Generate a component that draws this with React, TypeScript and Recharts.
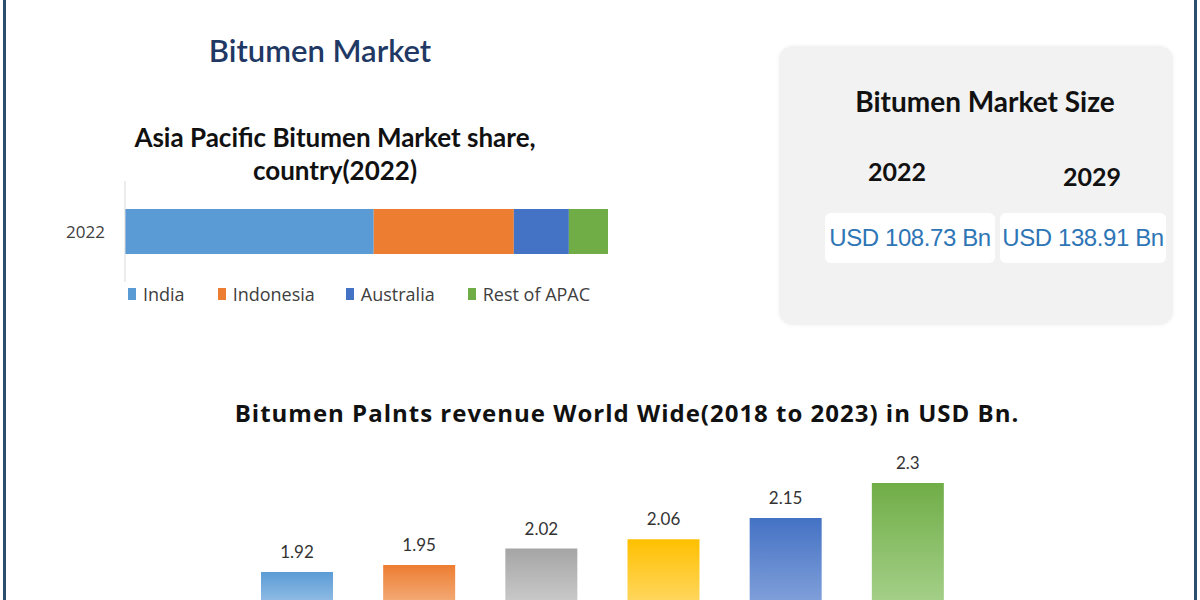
import React from "react";
import { BarChart, Bar, XAxis, YAxis, Legend, LabelList, Cell } from "recharts";

// Asia Pacific share by country, 2022 (%)
const shareYear = ["2022"];
const countries = ["India", "Indonesia", "Australia", "Rest of APAC"];
const shareValues = [51.5, 29, 11.4, 8.1];
const countryColors = ["#5b9bd5", "#ed7d31", "#4472c4", "#70ad47"];

// world wide revenue, USD Bn
const revenueYears = ["2018", "2019", "2020", "2021", "2022", "2023"];
const revenueValues = [1.92, 1.95, 2.02, 2.06, 2.15, 2.3];
const barTop = ["#5b9bd5", "#ed7d31", "#a5a5a5", "#ffc000", "#4472c4", "#70ad47"];
const barBottom = ["#8dbae3", "#f3a873", "#c8c8c8", "#ffd65c", "#7f9ed9", "#a3cf87"];

// market size summary
const sizeYears = ["2022", "2029"];
const sizeLabels = ["USD 108.73 Bn", "USD 138.91 Bn"];

const shareData = shareYear.map((y) => {
  const row: Record<string, string | number> = { year: y };
  countries.forEach((c, i) => (row[c] = shareValues[i]));
  return row;
});

const revenueData = revenueYears.map((y, i) => ({ year: y, value: revenueValues[i] }));

const sans = "Lato, 'Noto Sans', sans-serif";

// legend kept in the series order (recharts sorts it by name otherwise)
function ShareLegend() {
  return (
    <div style={{ display: "flex", paddingLeft: 3, height: 24, alignItems: "center", fontFamily: "'Open Sans', sans-serif", fontSize: 18, color: "#404040" }}>
      {countries.map((c, i) => (
        <span key={c} style={{ display: "flex", alignItems: "center", marginRight: [33, 31, 33, 0][i] }}>
          <span style={{ width: 8, height: 12, background: countryColors[i], marginRight: 7, display: "inline-block" }} />
          {c}
        </span>
      ))}
    </div>
  );
}

export default function App() {
  return (
    <div style={{ position: "absolute", left: 0, top: 0, width: 1200, height: 600, background: "#fff", overflow: "hidden" }}>
      <div style={{ position: "absolute", left: 3, top: 0, width: 1188, height: 600, borderLeft: "3px solid #2d4d6c", borderRight: "3px solid #2d4d6c" }} />

      <div style={{ position: "absolute", left: 120, width: 400, top: 31, textAlign: "center", fontFamily: sans, fontSize: 31, fontWeight: 600, color: "#1f3864" }}>
        Bitumen Market
      </div>
      <div style={{ position: "absolute", left: 85, width: 500, top: 121, textAlign: "center", fontFamily: sans, fontSize: 26, fontWeight: 700, color: "#111", lineHeight: "33px" }}>
        Asia Pacific Bitumen Market share,
        <br />
        country(2022)
      </div>

      <div style={{ position: "absolute", left: 0, top: 0 }}>
        <BarChart width={640} height={306} data={shareData} layout="vertical" margin={{ top: 181, right: 32, left: 0, bottom: 0 }}>
          <XAxis type="number" domain={[0, 100]} hide />
          <YAxis
            type="category"
            dataKey="year"
            width={125}
            tickLine={false}
            axisLine={{ stroke: "#d9d9d9" }}
            tickMargin={14}
            tick={{ fill: "#404040", fontSize: 17, fontFamily: "'Open Sans', sans-serif" }}
          />
          <Legend verticalAlign="bottom" align="left" content={<ShareLegend />} wrapperStyle={{ left: 125 }} />
          {countries.map((c, i) => (
            <Bar key={c} dataKey={c} stackId="a" fill={countryColors[i]} barSize={45} isAnimationActive={false} />
          ))}
        </BarChart>
      </div>

      <div style={{ position: "absolute", left: 779, top: 46, width: 394, height: 279, background: "#f2f2f2", borderRadius: 14, boxShadow: "0 0 4px rgba(0,0,0,0.06)" }}>
        <div style={{ position: "absolute", left: 0, width: 412, top: 38, textAlign: "center", fontFamily: sans, fontSize: 28, fontWeight: 700, color: "#111" }}>
          Bitumen Market Size
        </div>
        {sizeYears.map((y, i) => (
          <div key={y} style={{ position: "absolute", left: [89, 284][i], top: [110, 115][i], width: 54, textAlign: "center", fontFamily: sans, fontSize: 25, fontWeight: 700, color: "#111" }}>
            {y}
          </div>
        ))}
        {sizeLabels.map((s, i) => (
          <div key={s} style={{ position: "absolute", left: [46, 221][i], top: 167, width: [170, 166][i], height: 50, background: "#fff", borderRadius: 6, display: "flex", alignItems: "center", justifyContent: "center", fontFamily: "'Liberation Sans', Arial, sans-serif", fontSize: 24, letterSpacing: -0.4, color: "#2e75b6", whiteSpace: "nowrap" }}>
            {s}
          </div>
        ))}
      </div>

      <div style={{ position: "absolute", left: 0, width: 1254, top: 396, textAlign: "center", fontFamily: "'Open Sans', sans-serif", fontSize: 24, fontWeight: 700, color: "#111", letterSpacing: 1, whiteSpace: "nowrap" }}>
        Bitumen Palnts revenue World Wide(2018 to 2023) in USD Bn.
      </div>

      <div style={{ position: "absolute", left: 0, top: 430 }}>
        <BarChart width={1200} height={170} data={revenueData} margin={{ top: 6.2, right: 231, left: 236, bottom: 0 }} barCategoryGap={0}>
          <defs>
            {barTop.map((c, i) => (
              <linearGradient key={i} id={`rev${i}`} x1="0" y1="0" x2="0" y2="1">
                <stop offset="0%" stopColor={c} />
                <stop offset="100%" stopColor={barBottom[i]} />
              </linearGradient>
            ))}
          </defs>
          <XAxis dataKey="year" hide />
          <YAxis hide domain={[1.8, 2.5]} />
          <Bar dataKey="value" barSize={72} isAnimationActive={false}>
            {revenueData.map((_, i) => (
              <Cell key={i} fill={`url(#rev${i})`} />
            ))}
            <LabelList dataKey="value" position="top" offset={14} style={{ fill: "#333", fontSize: 17, fontFamily: sans }} />
          </Bar>
        </BarChart>
      </div>
    </div>
  );
}
